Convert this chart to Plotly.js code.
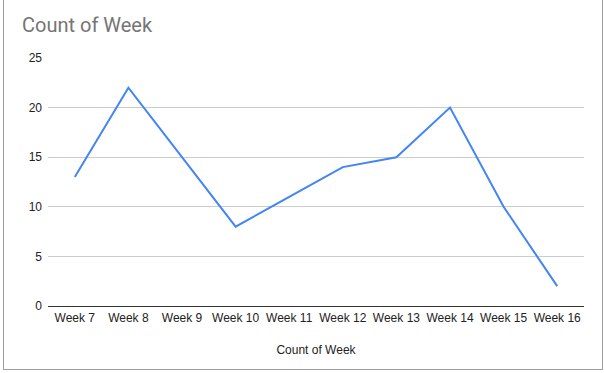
<!DOCTYPE html>
<html>
<head>
<meta charset="utf-8">
<script src="https://cdn.plot.ly/plotly-3.0.1.min.js"></script>
<style>
html,body{margin:0;padding:0;background:#fff;}
#wrap{position:relative;width:605px;height:373px;}
#chart{position:absolute;left:0;top:0;width:605px;height:373px;}
#frame{position:absolute;left:3px;top:0;width:600px;height:370px;border:1px solid #9e9e9e;border-top:none;box-sizing:border-box;pointer-events:none;}
</style>
</head>
<body>
<div id="wrap"><div id="chart"></div><div id="frame"></div></div>
<script>
const weeks = ["Week 7","Week 8","Week 9","Week 10","Week 11","Week 12","Week 13","Week 14","Week 15","Week 16"];
const counts = [13, 22, 15, 8, 11, 14, 15, 20, 10, 2];
const yTicks = [0, 5, 10, 15, 20, 25];

Plotly.newPlot('chart', [{
  type: 'scatter',
  mode: 'lines',
  x: weeks,
  y: counts,
  line: {color: '#4285F4', width: 2},
  hoverinfo: 'x+y'
}], {
  width: 605, height: 373,
  margin: {l: 48, r: 21, t: 58, b: 67},
  paper_bgcolor: '#fff', plot_bgcolor: '#fff',
  showlegend: false,
  title: {text: 'Count of Week', x: 0, xref: 'container', xanchor: 'left', y: 1, yref: 'container', yanchor: 'top', pad: {l: 22, t: 18},
    font: {family: 'Roboto, Arial, sans-serif', size: 20, color: '#757575'}},
  xaxis: {
    type: 'category', range: [-0.5, 9.5],
    showgrid: false, zeroline: false, showline: false,
    ticks: '', ticklabelstandoff: 3,
    tickfont: {family: 'Liberation Sans, Arial, sans-serif', size: 12, color: '#222'},
    title: {text: 'Count of Week', standoff: 21, font: {family: 'Liberation Sans, Arial, sans-serif', size: 12, color: '#222'}}
  },
  yaxis: {
    range: [0, 25], tickvals: yTicks, ticktext: yTicks.map(String),
    showgrid: true, gridcolor: '#cccccc', gridwidth: 1,
    zeroline: true, zerolinecolor: '#333333', zerolinewidth: 1,
    showline: false, ticks: '', ticklabelstandoff: 5,
    tickfont: {family: 'Liberation Sans, Arial, sans-serif', size: 12, color: '#222'}
  }
}, {displayModeBar: false, staticPlot: true});
</script>
</body>
</html>
